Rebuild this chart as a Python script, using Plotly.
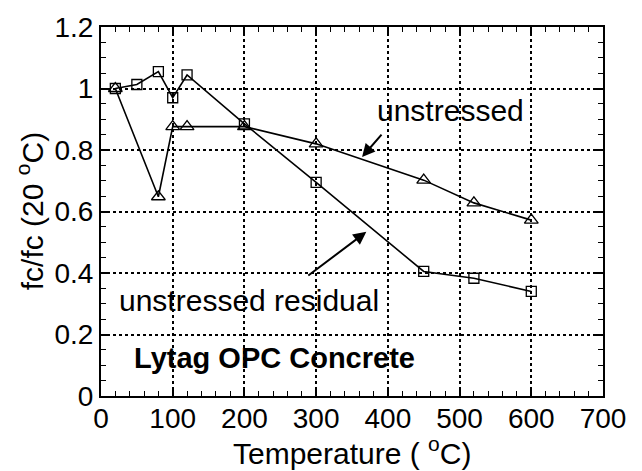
import plotly.graph_objects as go

# Data
temp_residual = [20, 50, 80, 100, 120, 200, 300, 450, 520, 600]
ratio_residual = [1.0, 1.013, 1.055, 0.97, 1.044, 0.885, 0.695, 0.405, 0.383, 0.34]

temp_unstressed = [20, 80, 100, 120, 200, 300, 450, 520, 600]
ratio_unstressed = [1.0, 0.648, 0.876, 0.876, 0.876, 0.82, 0.702, 0.628, 0.572]

x_ticks = [0, 100, 200, 300, 400, 500, 600, 700]
y_ticks = [0, 0.2, 0.4, 0.6, 0.8, 1.0, 1.2]
y_tick_text = ["0", "0.2", "0.4", "0.6", "0.8", "1", "1.2"]

FONT = "Liberation Sans, Arial, sans-serif"

fig = go.Figure()
fig.add_trace(go.Scatter(
    x=temp_residual, y=ratio_residual, mode="lines+markers",
    line=dict(color="black", width=1.6),
    marker=dict(symbol="square-open", size=10, color="black", line=dict(width=1.3)),
    showlegend=False))
fig.add_trace(go.Scatter(
    x=temp_unstressed, y=ratio_unstressed, mode="lines+markers",
    line=dict(color="black", width=1.6),
    marker=dict(symbol="triangle-up-open", size=12, color="black", line=dict(width=1.3)),
    showlegend=False))

ann_font = dict(family=FONT, size=30, color="black")
fig.add_annotation(x=487, y=0.93, xref="x", yref="y", text="unstressed",
                   showarrow=False, font=ann_font)
fig.add_annotation(x=22, y=0.31, xref="x", yref="y", text="unstressed residual",
                   showarrow=False, xanchor="left", font=ann_font)
fig.add_annotation(x=43, y=0.125, xref="x", yref="y", text="<b>Lytag OPC Concrete</b>",
                   showarrow=False, xanchor="left", font=dict(family=FONT, size=29, color="black"))
# arrows
fig.add_annotation(x=364, y=0.777, ax=393, ay=0.855, xref="x", yref="y", axref="x", ayref="y",
                   text="", showarrow=True, arrowhead=2, arrowsize=1.3, arrowwidth=2, arrowcolor="black")
fig.add_annotation(x=370, y=0.534, ax=287, ay=0.388, xref="x", yref="y", axref="x", ayref="y",
                   text="", showarrow=True, arrowhead=2, arrowsize=1.3, arrowwidth=2, arrowcolor="black")

# axis titles
fig.add_annotation(x=0.5, y=-0.148, xref="paper", yref="paper", yanchor="middle",
                   text="Temperature ( <sup>o</sup>C)", showarrow=False,
                   font=dict(family=FONT, size=30, color="black"))
fig.add_annotation(x=-0.142, y=0.5, xref="paper", yref="paper", xanchor="center", yanchor="middle",
                   text="fc/fc (20 <sup>o</sup>C)", showarrow=False, textangle=-90,
                   font=dict(family=FONT, size=30, color="black"))

axis_common = dict(
    showline=True, linecolor="black", linewidth=2, mirror="allticks",
    ticks="inside", ticklen=8, tickwidth=1.5, tickcolor="black",
    showgrid=True, gridcolor="black", gridwidth=1.5, griddash="dot",
    zeroline=False,
    tickfont=dict(family=FONT, size=28, color="black"),
)

fig.update_xaxes(range=[0, 700], tickvals=x_ticks, ticklabelstandoff=-4,
                 minor=dict(dtick=20, ticks="inside", ticklen=5, tickwidth=1.2, tickcolor="black", showgrid=False),
                 **axis_common)
fig.update_yaxes(range=[0, 1.2], tickvals=y_ticks, ticktext=y_tick_text,
                 minor=dict(dtick=0.05, ticks="inside", ticklen=5, tickwidth=1.2, tickcolor="black", showgrid=False),
                 **axis_common)

fig.update_layout(
    width=642, height=471,
    margin=dict(l=101, r=39, t=27, b=75),
    paper_bgcolor="white", plot_bgcolor="white",
    font=dict(family=FONT, color="black"),
)

fig.write_html("out.html", config={"displayModeBar": False},
               post_script="document.body.style.margin='0';document.body.style.overflow='hidden';")
